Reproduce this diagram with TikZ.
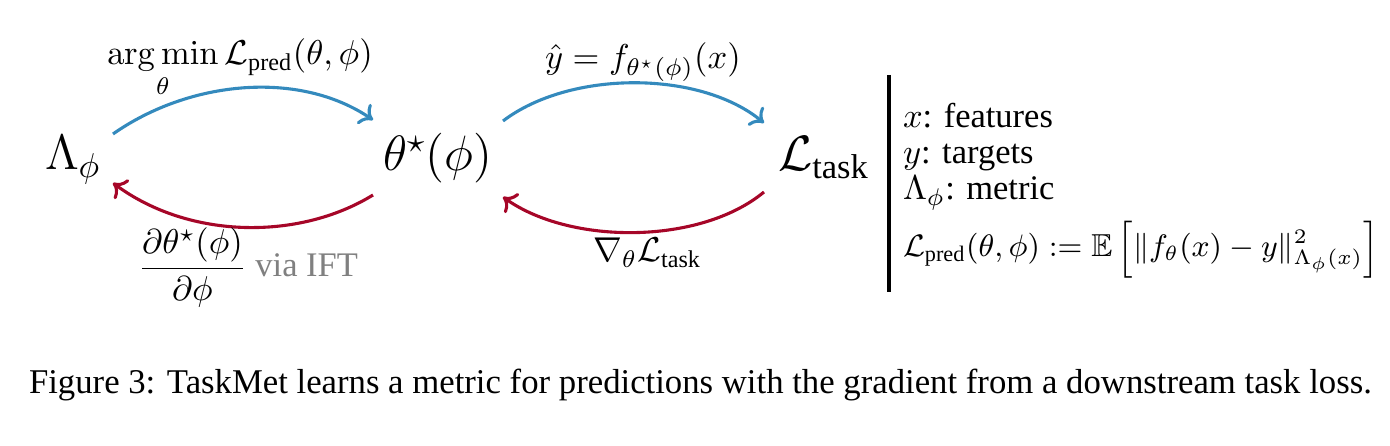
\documentclass[tikz,border=0pt]{standalone}
\usepackage{amsmath,amssymb}
\usepackage[no-math]{fontspec}
\setmainfont{Liberation Serif}
\usetikzlibrary{arrows.meta,calc}
\definecolor{myblue}{HTML}{348ABD}
\definecolor{myred}{HTML}{A60628}
\begin{document}
\begin{tikzpicture}[x=0.29pt,y=-0.29pt,
  every node/.style={inner sep=0pt,outer sep=0pt},
  bignode/.style={anchor=base west,font=\fontsize{14.4}{17}\selectfont},
  lbl/.style={anchor=base west,font=\fontsize{10}{12}\selectfont},
  fwd/.style={draw=myblue,line width=0.9pt,-{To[length=3.5pt,width=7pt]}},
  bwd/.style={draw=myred,line width=0.9pt,-{To[length=3.5pt,width=7pt]}}]
\useasboundingbox (0,0) rectangle (1390,446);
% main nodes
\node[bignode] (lam) at (45,170) {$\Lambda_\phi$};
\node[bignode] (theta) at (383,171) {$\theta^\star(\phi)$};
\node[bignode] (ltask) at (778,171) {$\mathcal{L}_{\text{task}}$};
% arrows
\draw[fwd] ($(lam.base west)+(68,-36)$) .. controls +(77,-54) and +(-73,-50) .. ($(theta.base west)+(-10,-51)$);
\draw[bwd] ($(theta.base west)+(-10,24)$) .. controls +(-73,45) and +(77,57) .. ($(lam.base west)+(68,13)$);
\draw[fwd] ($(theta.base west)+(120,-50)$) .. controls +(67,-51) and +(-64,-53) .. ($(ltask.base west)+(-14,-48)$);
\draw[bwd] ($(ltask.base west)+(-14,21)$) .. controls +(-64,53) and +(67,48) .. ($(theta.base west)+(120,26)$);
% edge labels
\node[lbl] (l1) at (107,65) {$\mathop{\arg\min}\limits_{\theta} \mathcal{L}_{\text{pred}}(\theta,\phi)$};
\node[lbl] (l2) at (545,69) {$\hat{y} = f_{\theta^\star(\phi)}(x)$};
\node[lbl] (l3) at (138,277) {$\dfrac{\partial\theta^\star(\phi)}{\partial\phi}$ \textcolor{gray}{via IFT}};
\node[lbl] (l4) at (593,262) {$\nabla_\theta\mathcal{L}_{\text{task}}$};
% legend
\coordinate (bt) at (889,75);
\coordinate (bb) at (889,292);
\draw[line width=1pt] (bt) -- (bb);
\node[lbl] (t1) at (903,128) {$x$: features};
\node[lbl] (t2) at (903,164) {$y$: targets};
\node[lbl] (t3) at (903,200) {$\Lambda_\phi$: metric};
\node[lbl,font=\fontsize{9.2}{11}\selectfont] (t4) at (903,257) {$\mathcal{L}_{\text{pred}}(\theta,\phi) := \mathbb{E}\left[\|f_\theta(x)-y\|^2_{\Lambda_\phi(x)}\right]$};
% caption
\node[lbl,font=\fontsize{10.07}{12}\selectfont] (cap) at (29,394) {Figure 3: TaskMet learns a metric for predictions with the gradient from a downstream task loss.};
\end{tikzpicture}
\end{document}
